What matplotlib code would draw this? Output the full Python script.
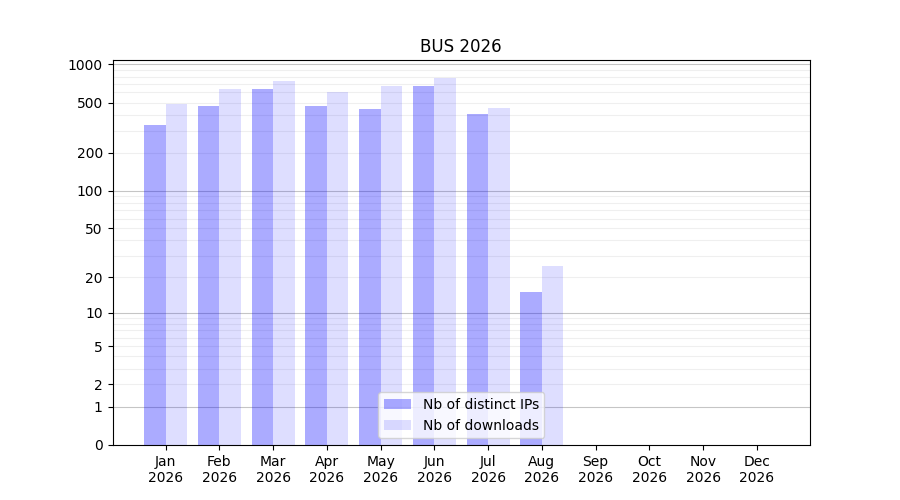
import numpy as np
import matplotlib
matplotlib.use("Agg")
import matplotlib.pyplot as plt

# ------------------------------
# DATA
# ------------------------------
months = ["Jan", "Feb", "Mar", "Apr", "May", "Jun", "Jul", "Aug", "Sep", "Oct", "Nov", "Dec"]
year = "2026"
distinct_ips = [330, 466, 635, 466, 441, 670, 403, 15, 0, 0, 0, 0]
downloads = [483, 635, 734, 602, 670, 776, 450, 25, 0, 0, 0, 0]
ytick_values = [0, 1, 2, 5, 10, 20, 50, 100, 200, 500, 1000]


def fwd(y):
    return np.log10(1 + np.clip(y, 0, None))


def inv(y):
    return 10 ** y - 1


fig, ax = plt.subplots(figsize=(9, 5), dpi=100)
ax.set_yscale("function", functions=(fwd, inv))

x = np.arange(len(months))
ax.bar(x, distinct_ips, width=-0.4, align="edge", color="blue", alpha=0.33,
       label="Nb of distinct IPs")
ax.bar(x, downloads, width=0.4, align="edge", color="blue", alpha=0.13,
       label="Nb of downloads")

# grid: darker at decades, light in between
for dec in [1, 10, 100]:
    for m in range(1, 10):
        v = dec * m
        if m == 1:
            ax.axhline(v, color="gray", alpha=0.45, lw=0.8, zorder=0.5)
        else:
            ax.axhline(v, color="gray", alpha=0.12, lw=0.8, zorder=0.5)
ax.axhline(1000, color="gray", alpha=0.45, lw=0.8, zorder=0.5)

ax.set_yticks(ytick_values)
ax.set_yticklabels([str(v) for v in ytick_values])
ax.yaxis.set_minor_locator(matplotlib.ticker.NullLocator())
ax.set_xticks(x)
ax.set_xticklabels([f"{m}\n{year}" for m in months])

ax.set_title("BUS 2026")
ax.legend(loc="lower center")

fig.savefig("out.png", dpi=100)
